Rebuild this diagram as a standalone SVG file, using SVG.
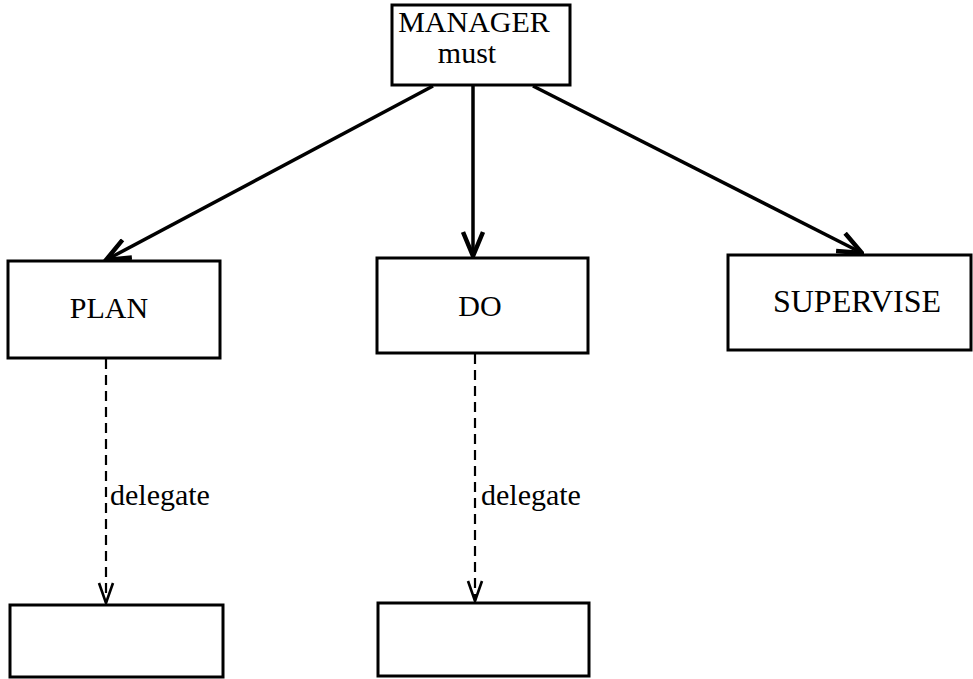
<svg xmlns="http://www.w3.org/2000/svg" width="973" height="679" viewBox="0 0 973 679">
<style>
.box{fill:#fff;stroke:#000;stroke-width:3}
.lbl{font-family:"Liberation Serif","Times New Roman",serif;font-size:30px;fill:#000;text-anchor:middle}
.dl{font-family:"Liberation Serif","Times New Roman",serif;font-size:30px;fill:#000}
.solid{stroke:#000;stroke-width:3.5;fill:none}
.dash{stroke:#000;stroke-width:2.2;fill:none;stroke-dasharray:10 6}
</style>
<defs>
<marker id="ah" viewBox="0 0 28 24" refX="26" refY="12" markerWidth="28" markerHeight="24" markerUnits="userSpaceOnUse" orient="auto">
<path d="M2,2 L26,12 L2,22" fill="none" stroke="#000" stroke-width="4.5"/>
</marker>
<marker id="ahd" viewBox="0 0 22 18" refX="21" refY="9" markerWidth="22" markerHeight="18" markerUnits="userSpaceOnUse" orient="auto">
<path d="M1,2 L21,9 L1,16" fill="none" stroke="#000" stroke-width="2.6"/>
</marker>
</defs>
<rect width="973" height="679" fill="#fff"/>
<g id="connectors">
<line class="solid" x1="433" y1="86" x2="106" y2="260" marker-end="url(#ah)"/>
<line class="solid" x1="473" y1="86" x2="473" y2="256" marker-end="url(#ah)"/>
<line class="solid" x1="533" y1="86" x2="862" y2="253" marker-end="url(#ah)"/>
<line class="dash" x1="106" y1="359" x2="106" y2="603" marker-end="url(#ahd)"/>
<line class="dash" x1="475" y1="354" x2="475" y2="601" marker-end="url(#ahd)"/>
<text class="dl" x="110" y="505">delegate</text>
<text class="dl" x="481" y="505">delegate</text>
</g>
<g id="manager">
<rect class="box" x="392" y="5" width="178" height="80"/>
<text class="lbl" x="474" y="32">MANAGER</text>
<text class="lbl" x="467" y="63">must</text>
</g>
<g id="plan">
<rect class="box" x="8" y="261" width="212" height="97"/>
<text class="lbl" x="109" y="318">PLAN</text>
</g>
<g id="do">
<rect class="box" x="377" y="258" width="211" height="95"/>
<text class="lbl" x="480" y="316">DO</text>
</g>
<g id="supervise">
<rect class="box" x="728" y="255" width="243" height="95"/>
<text class="lbl" x="857" y="312" style="font-size:32px">SUPERVISE</text>
</g>
<g id="plan-delegate">
<rect class="box" x="10" y="605" width="213" height="72"/>
</g>
<g id="do-delegate">
<rect class="box" x="378" y="603" width="211" height="73"/>
</g>
</svg>
